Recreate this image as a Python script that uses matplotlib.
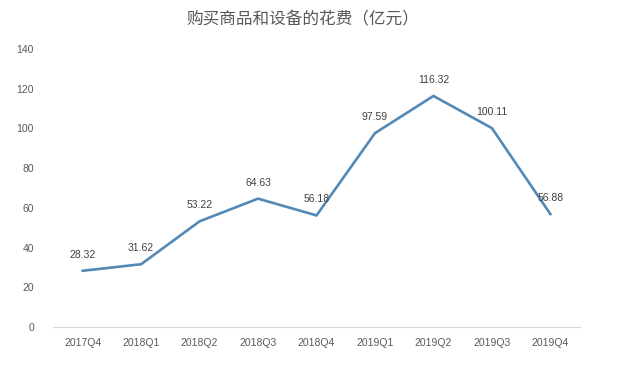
import matplotlib
matplotlib.use('Agg')
import matplotlib.pyplot as plt

plt.rcParams['font.family'] = ['Liberation Sans', 'Noto Sans CJK SC', 'DejaVu Sans']

# 数据
quarters = ['2017Q4', '2018Q1', '2018Q2', '2018Q3', '2018Q4',
            '2019Q1', '2019Q2', '2019Q3', '2019Q4']
spend = [28.32, 31.62, 53.22, 64.63, 56.18, 97.59, 116.32, 100.11, 56.88]
title = '购买商品和设备的花费（亿元）'
yticks = [0, 20, 40, 60, 80, 100, 120, 140]

fig = plt.figure(figsize=(6.44, 3.65), dpi=100)
ax = fig.add_axes([0.083, 0.104, 0.817, 0.762])

x = list(range(len(quarters)))
ax.plot(x, spend, color='#5489b6', linewidth=1.9, solid_joinstyle='miter')

for xi, v in zip(x, spend):
    ax.annotate(f'{v:.2f}', (xi, v), xytext=(0, 8), textcoords='offset points',
                ha='center', va='bottom', fontsize=7.5, color='#404040')

ax.set_xlim(-0.5, len(quarters) - 0.5)
ax.set_ylim(0, 140)
ax.set_yticks(yticks)
ax.set_xticks(x)
ax.set_xticklabels(quarters)
ax.tick_params(axis='both', length=0, labelsize=7.5, colors='#595959')
ax.tick_params(axis='x', pad=8)
ax.tick_params(axis='y', pad=14)

for s in ['top', 'right', 'left']:
    ax.spines[s].set_visible(False)
ax.spines['bottom'].set_color('#d9d9d9')
ax.spines['bottom'].set_linewidth(0.8)

fig.text(0.47, 0.945, title, ha='center', va='center', fontsize=12,
         color='#595959', family=['Noto Sans CJK SC', 'DejaVu Sans'])

fig.savefig('out.png', dpi=100)
